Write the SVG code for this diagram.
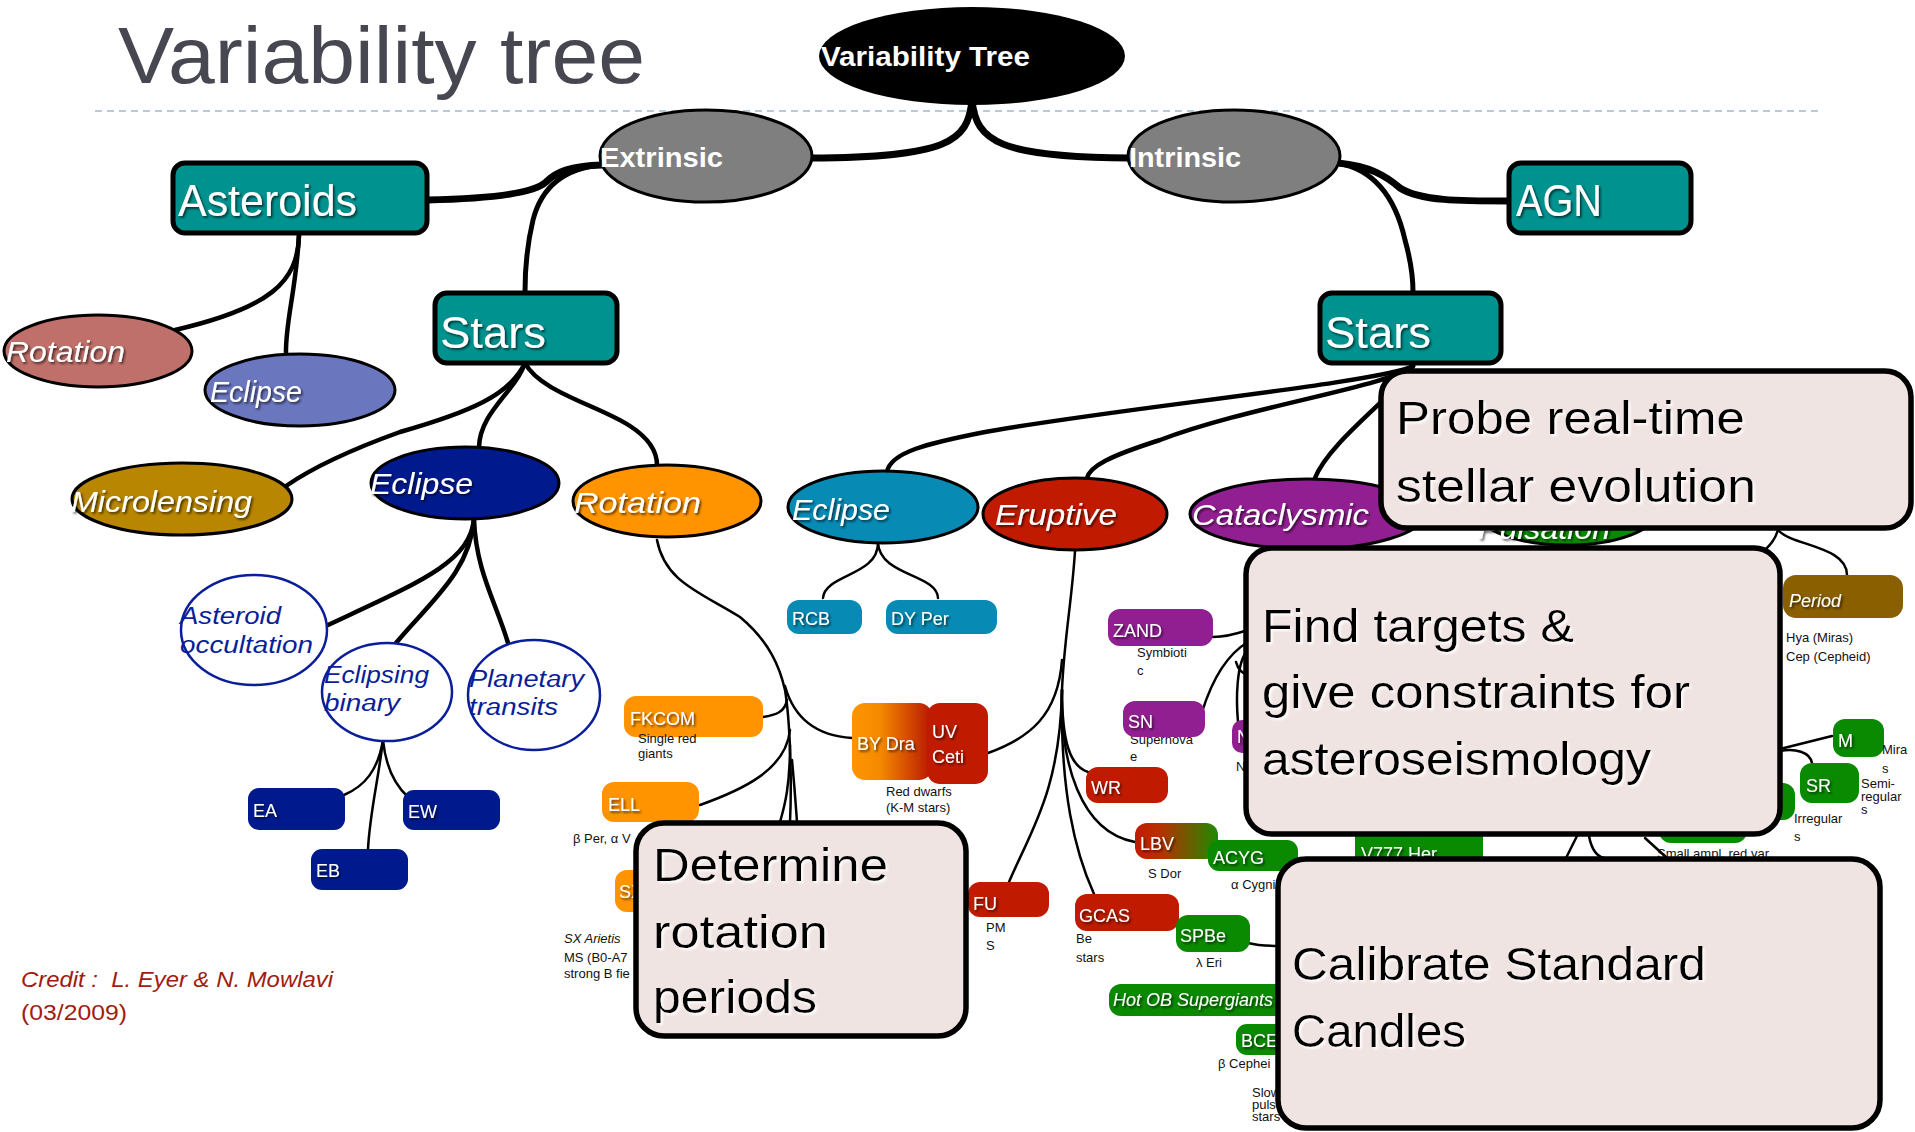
<svg xmlns="http://www.w3.org/2000/svg" width="1915" height="1132" viewBox="0 0 1915 1132">
<defs>
  <filter id="sh" x="-10%" y="-30%" width="130%" height="170%">
    <feDropShadow dx="1.6" dy="1.8" stdDeviation="1" flood-color="#000" flood-opacity="0.65"/>
  </filter>
  <filter id="glow" x="-5%" y="-20%" width="115%" height="150%">
    <feDropShadow dx="2" dy="2" stdDeviation="1.2" flood-color="#ffffff" flood-opacity="0.9"/>
  </filter>
  <linearGradient id="gBy" x1="0" y1="0" x2="1" y2="0">
    <stop offset="0" stop-color="#ff9400"/>
    <stop offset="0.35" stop-color="#f58a00"/>
    <stop offset="1" stop-color="#b81600"/>
  </linearGradient>
  <linearGradient id="gLbv" x1="0" y1="0" x2="1" y2="0">
    <stop offset="0" stop-color="#c21a00"/>
    <stop offset="0.3" stop-color="#b83000"/>
    <stop offset="1" stop-color="#1f8a00"/>
  </linearGradient>
</defs>
<style>
  .lab{font-family:"Liberation Sans",Arial,sans-serif;fill:#fff}
  .big{font-family:"Liberation Sans",Arial,sans-serif;fill:#fff;font-size:44px;filter:url(#sh)}
  .ell{font-family:"Liberation Sans",Arial,sans-serif;fill:#fff;font-size:30px;font-style:italic;filter:url(#sh)}
  .sm{font-family:"Liberation Sans",Arial,sans-serif;fill:#fff;font-size:18px;filter:url(#sh)}
  .sub{font-family:"Liberation Sans",Arial,sans-serif;fill:#111;font-size:13px}
  .circ{font-family:"Liberation Sans",Arial,sans-serif;fill:#0a1e9a;font-size:23px;font-style:italic}
  .call{font-family:"Liberation Sans",Arial,sans-serif;fill:#000;font-size:46px;filter:url(#glow)}
  .node{stroke:#000;stroke-width:3}
  .tealbox{fill:#00928f;stroke:#000;stroke-width:5}
  .callbox{fill:#f0e4e2;stroke:#000;stroke-width:5.5}
  .c1{fill:none;stroke:#000;stroke-width:7;stroke-linecap:round}
  .c2{fill:none;stroke:#000;stroke-width:5;stroke-linecap:round}
  .c3{fill:none;stroke:#000;stroke-width:4.5;stroke-linecap:round}
  .c4{fill:none;stroke:#000;stroke-width:2.5;stroke-linecap:round}
  .green{fill:#0a8a00}
  .purple{fill:#921f91}
  .red{fill:#c01b00}
  .orange{fill:#ff9400}
</style>

<rect width="1915" height="1132" fill="#fff"/>

<!-- heading -->
<text x="118" y="83" font-family="'Liberation Sans',Arial,sans-serif" font-size="80" fill="#474752" textLength="527" lengthAdjust="spacingAndGlyphs">Variability tree</text>
<line x1="95" y1="111" x2="1823" y2="111" stroke="#a4b8cc" stroke-width="1.6" stroke-dasharray="7 5"/>

<!-- links between nodes -->
<g id="connectors">
  <path class="c1" d="M972,100 C968,142 948,157 811,158"/>
  <path class="c1" d="M972,100 C976,142 1000,157 1130,158"/>
  <path class="c1" d="M602,165 C570,166 556,172 546,182 C532,195 480,199 427,200"/>
  <path class="c2" d="M602,165 C566,168 542,185 533,220 C527,245 525,270 525,292"/>
  <path class="c1" d="M1338,163 C1370,166 1386,176 1400,188 C1420,201 1460,201 1510,201"/>
  <path class="c2" d="M1338,163 C1376,170 1396,200 1405,240 C1412,265 1413,280 1413,292"/>
  <path class="c3" d="M299,235 C298,282 270,308 175,330"/>
  <path class="c3" d="M299,235 C296,292 285,322 286,355"/>
  <path class="c3" d="M525,363 C510,395 470,412 400,432 C350,450 312,468 286,486"/>
  <path class="c3" d="M525,363 C515,392 480,412 479,447"/>
  <path class="c3" d="M525,363 C540,392 600,406 630,426 C650,439 657,452 657,465"/>
  <path class="c3" d="M474,519 C470,562 420,582 328,625"/>
  <path class="c3" d="M474,519 C470,572 430,602 396,643"/>
  <path class="c3" d="M474,519 C476,572 496,602 508,643"/>
  <path class="c4" d="M383,740 C378,770 365,786 344,795"/>
  <path class="c4" d="M383,740 C386,770 396,786 408,797"/>
  <path class="c4" d="M383,740 C378,782 370,812 368,849"/>
  <path class="c4" d="M657,540 C665,582 700,592 740,617 C770,642 780,668 785,690 C790,720 792,780 790,822"/>
  <path class="c4" d="M785,686 C795,722 820,736 852,738"/>
  <path class="c4" d="M763,717 C776,715 785,712 787,700"/>
  <path class="c4" d="M700,805 C742,790 786,770 790,730"/>
  <path class="c4" d="M790,745 C790,785 785,805 780,822"/>
  <path class="c4" d="M792,760 C795,792 796,808 797,822"/>
  <path class="c4" d="M878,543 C878,576 825,574 823,598"/>
  <path class="c4" d="M878,543 C880,576 937,574 938,598"/>
  <path class="c3" d="M1413,366 C1380,383 1100,410 980,433 C930,443 890,452 887,472"/>
  <path class="c3" d="M1413,366 C1390,386 1250,406 1160,440 C1110,456 1090,466 1087,478"/>
  <path class="c3" d="M1413,366 C1400,392 1330,440 1315,478"/>
  <path class="c4" d="M1075,551 C1072,600 1064,640 1062,690"/>
  <path class="c4" d="M988,753 C1030,738 1058,715 1062,660"/>
  <path class="c4" d="M1062,690 C1062,742 1070,766 1088,772"/>
  <path class="c4" d="M1062,690 C1060,762 1080,832 1135,842"/>
  <path class="c4" d="M1062,690 C1060,792 1030,832 1009,882"/>
  <path class="c4" d="M1062,690 C1060,792 1075,852 1094,894"/>
  <path class="c4" d="M1213,637 C1226,637 1236,634 1248,630"/>
  <path class="c4" d="M1202,712 C1212,680 1226,655 1248,642"/>
  <path class="c4" d="M1248,650 C1236,662 1236,700 1238,722"/>
  <path class="c4" d="M1236,662 C1238,670 1242,674 1250,676"/>
  <path class="c4" d="M1778,530 C1792,546 1847,546 1847,575"/>
  <path class="c4" d="M1778,530 C1775,540 1770,545 1764,551"/>
  <path class="c4" d="M1832,736 L1780,749"/>
  <path class="c4" d="M1812,763 C1810,752 1795,748 1780,751"/>
  <path class="c4" d="M1248,943 C1260,946 1268,946 1280,946"/>
  <path class="c4" d="M1580,830 L1566,858"/>
  <path class="c4" d="M1588,830 C1590,846 1595,856 1604,858"/>
  <path class="c4" d="M1645,838 L1667,858"/>
</g>

<!-- root -->
<g id="root">
  <ellipse cx="972" cy="56" rx="153" ry="49" fill="#000"/>
  <text class="lab" x="821" y="66" font-size="27" font-weight="bold" textLength="209" lengthAdjust="spacingAndGlyphs">Variability Tree</text>
</g>
<g id="extrinsic">
  <ellipse class="node" cx="706" cy="156" rx="106" ry="46" fill="#7f7f7f"/>
  <text class="lab" x="600" y="167" font-size="27" font-weight="bold" textLength="123" lengthAdjust="spacingAndGlyphs">Extrinsic</text>
</g>
<g id="intrinsic">
  <ellipse class="node" cx="1234" cy="156" rx="106" ry="46" fill="#7f7f7f"/>
  <text class="lab" x="1129" y="167" font-size="27" font-weight="bold" textLength="112" lengthAdjust="spacingAndGlyphs">Intrinsic</text>
</g>

<g id="asteroids">
  <rect class="tealbox" x="173" y="163" width="254" height="70" rx="12"/>
  <text class="big" x="178" y="216" textLength="179" lengthAdjust="spacingAndGlyphs">Asteroids</text>
</g>
<g id="stars-extrinsic">
  <rect class="tealbox" x="435" y="293" width="182" height="70" rx="12"/>
  <text class="big" x="440" y="348" font-size="48" textLength="106" lengthAdjust="spacingAndGlyphs">Stars</text>
</g>
<g id="agn">
  <rect class="tealbox" x="1509" y="163" width="182" height="70" rx="12"/>
  <text class="big" x="1516" y="216" textLength="86" lengthAdjust="spacingAndGlyphs">AGN</text>
</g>
<g id="stars-intrinsic">
  <rect class="tealbox" x="1320" y="293" width="181" height="70" rx="12"/>
  <text class="big" x="1325" y="348" font-size="48" textLength="106" lengthAdjust="spacingAndGlyphs">Stars</text>
</g>

<g id="asteroid-rotation">
  <ellipse class="node" cx="98" cy="351" rx="94" ry="36" fill="#c0706a"/>
  <text class="ell" x="6" y="362" textLength="119" lengthAdjust="spacingAndGlyphs">Rotation</text>
</g>
<g id="asteroid-eclipse">
  <ellipse class="node" cx="300" cy="390" rx="95" ry="36" fill="#6a76be"/>
  <text class="ell" x="210" y="402" textLength="92" lengthAdjust="spacingAndGlyphs">Eclipse</text>
</g>

<g id="microlensing">
  <ellipse class="node" cx="182" cy="499" rx="110" ry="36" fill="#b88600"/>
  <text class="ell" x="71" y="512" textLength="181" lengthAdjust="spacingAndGlyphs">Microlensing</text>
</g>
<g id="eclipse-extrinsic">
  <ellipse class="node" cx="465" cy="483" rx="94" ry="36" fill="#001a8e"/>
  <text class="ell" x="370" y="494" textLength="103" lengthAdjust="spacingAndGlyphs">Eclipse</text>
</g>
<g id="rotation-stars">
  <ellipse class="node" cx="667" cy="501" rx="94" ry="36" fill="#ff9400"/>
  <text class="ell" x="574" y="513" textLength="127" lengthAdjust="spacingAndGlyphs">Rotation</text>
</g>

<g id="asteroid-occultation">
  <ellipse cx="254" cy="630" rx="73" ry="55" fill="#fff" stroke="#0a1e9a" stroke-width="2.5"/>
  <text class="circ" x="180" y="624" textLength="101" lengthAdjust="spacingAndGlyphs">Asteroid</text>
  <text class="circ" x="180" y="653" textLength="133" lengthAdjust="spacingAndGlyphs">occultation</text>
</g>
<g id="eclipsing-binary">
  <ellipse cx="387" cy="692" rx="65" ry="49" fill="#fff" stroke="#0a1e9a" stroke-width="2.5"/>
  <text class="circ" x="324" y="683" textLength="105" lengthAdjust="spacingAndGlyphs">Eclipsing</text>
  <text class="circ" x="324" y="711" textLength="76" lengthAdjust="spacingAndGlyphs">binary</text>
</g>
<g id="planetary-transits">
  <ellipse cx="534" cy="695" rx="66" ry="55" fill="#fff" stroke="#0a1e9a" stroke-width="2.5"/>
  <text class="circ" x="469" y="687" textLength="115" lengthAdjust="spacingAndGlyphs">Planetary</text>
  <text class="circ" x="469" y="715" textLength="89" lengthAdjust="spacingAndGlyphs">transits</text>
</g>

<g id="ea">
  <rect x="248" y="788" width="97" height="42" rx="11" fill="#001a8e"/>
  <text class="sm" x="253" y="817">EA</text>
</g>
<g id="ew">
  <rect x="403" y="790" width="97" height="40" rx="11" fill="#001a8e"/>
  <text class="sm" x="408" y="818">EW</text>
</g>
<g id="eb">
  <rect x="311" y="849" width="97" height="41" rx="11" fill="#001a8e"/>
  <text class="sm" x="316" y="877">EB</text>
</g>

<g id="fkcom">
  <rect class="orange" x="624" y="696" width="139" height="41" rx="12"/>
  <text class="sm" x="630" y="725">FKCOM</text>
  <text class="sub" x="638" y="743">Single red</text>
  <text class="sub" x="638" y="758">giants</text>
</g>
<g id="ell">
  <rect class="orange" x="602" y="782" width="97" height="40" rx="12"/>
  <text class="sm" x="608" y="811">ELL</text>
  <text class="sub" x="573" y="843">β Per, α V</text>
</g>
<g id="sxari">
  <rect class="orange" x="615" y="870" width="100" height="42" rx="12"/>
  <text class="sm" x="619" y="898" font-size="19">SX</text>
  <text class="sub" x="564" y="943" font-style="italic">SX Arietis</text>
  <text class="sub" x="564" y="962">MS (B0-A7</text>
  <text class="sub" x="564" y="978">strong B fie</text>
</g>
<g id="bydra">
  <rect x="852" y="703" width="80" height="77" rx="13" fill="url(#gBy)"/>
  <text class="sm" x="857" y="750">BY Dra</text>
</g>
<g id="uvceti">
  <rect class="red" x="927" y="703" width="61" height="81" rx="13"/>
  <text class="sm" x="932" y="738">UV</text>
  <text class="sm" x="932" y="763">Ceti</text>
  <text class="sub" x="886" y="796">Red dwarfs</text>
  <text class="sub" x="886" y="812">(K-M stars)</text>
</g>

<g id="eclipse-intrinsic">
  <ellipse class="node" cx="883" cy="507" rx="95" ry="36" fill="#078bb5"/>
  <text class="ell" x="792" y="520" textLength="98" lengthAdjust="spacingAndGlyphs">Eclipse</text>
</g>
<g id="rcb">
  <rect x="787" y="600" width="75" height="34" rx="12" fill="#078bb5"/>
  <text class="sm" x="792" y="625">RCB</text>
</g>
<g id="dyper">
  <rect x="886" y="600" width="111" height="34" rx="12" fill="#078bb5"/>
  <text class="sm" x="891" y="625">DY Per</text>
</g>

<g id="eruptive">
  <ellipse class="node" cx="1075" cy="514" rx="92" ry="36" fill="#c01b00"/>
  <text class="ell" x="995" y="525" textLength="122" lengthAdjust="spacingAndGlyphs">Eruptive</text>
</g>
<g id="cataclysmic">
  <ellipse class="node" cx="1307" cy="514" rx="117" ry="35" fill="#921f91"/>
  <text class="ell" x="1192" y="525" textLength="177" lengthAdjust="spacingAndGlyphs">Cataclysmic</text>
</g>
<g id="pulsation">
  <ellipse class="node" cx="1567" cy="511" rx="90" ry="34" fill="#0a8a00"/>
  <text class="ell" x="1478" y="539" textLength="132" lengthAdjust="spacingAndGlyphs">Pulsation</text>
</g>

<g id="zand">
  <rect class="purple" x="1108" y="609" width="105" height="37" rx="12"/>
  <text class="sm" x="1113" y="637">ZAND</text>
  <text class="sub" x="1137" y="657">Symbioti</text>
  <text class="sub" x="1137" y="675">c</text>
</g>
<g id="sn">
  <text class="sub" x="1130" y="744">Supernova</text>
  <text class="sub" x="1130" y="761">e</text>
  <rect class="purple" x="1123" y="701" width="82" height="36" rx="12"/>
  <text class="sm" x="1128" y="728">SN</text>
</g>
<g id="nova">
  <rect class="purple" x="1232" y="720" width="40" height="33" rx="10"/>
  <text class="sm" x="1237" y="743">N</text>
  <text class="sub" x="1236" y="771">N</text>
</g>
<g id="wr">
  <rect class="red" x="1086" y="767" width="82" height="36" rx="12"/>
  <text class="sm" x="1091" y="794">WR</text>
</g>
<g id="fu">
  <rect class="red" x="968" y="882" width="81" height="35" rx="12"/>
  <text class="sm" x="973" y="910">FU</text>
  <text class="sub" x="986" y="932">PM</text>
  <text class="sub" x="986" y="950">S</text>
</g>
<g id="gcas">
  <rect class="red" x="1075" y="894" width="104" height="37" rx="12"/>
  <text class="sm" x="1079" y="922">GCAS</text>
  <text class="sub" x="1076" y="943">Be</text>
  <text class="sub" x="1076" y="962">stars</text>
</g>
<g id="lbv">
  <rect x="1135" y="823" width="83" height="36" rx="12" fill="url(#gLbv)"/>
  <text class="sm" x="1140" y="850" font-size="22">LBV</text>
  <text class="sub" x="1148" y="878">S Dor</text>
</g>
<g id="acyg">
  <rect class="green" x="1208" y="840" width="90" height="31" rx="11"/>
  <text class="sm" x="1213" y="864">ACYG</text>
  <text class="sub" x="1231" y="889">α Cygni</text>
</g>
<g id="spbe">
  <rect class="green" x="1176" y="915" width="74" height="37" rx="12"/>
  <text class="sm" x="1180" y="942">SPBe</text>
  <text class="sub" x="1196" y="967">λ Eri</text>
</g>
<g id="hotob">
  <rect class="green" x="1109" y="984" width="190" height="32" rx="12"/>
  <text class="sm" x="1113" y="1006" font-style="italic" font-size="17">Hot OB Supergiants</text>
</g>
<g id="bce">
  <rect class="green" x="1236" y="1024" width="64" height="31" rx="11"/>
  <text class="sm" x="1241" y="1047">BCE</text>
  <text class="sub" x="1218" y="1068">β Cephei</text>
  <text class="sub" x="1252" y="1097">Slow</text>
  <text class="sub" x="1252" y="1109">puls</text>
  <text class="sub" x="1252" y="1121">stars</text>
</g>
<g id="v777her">
  <rect class="green" x="1355" y="820" width="128" height="50" rx="14"/>
  <text class="sm" x="1361" y="860">V777 Her</text>
</g>
<g id="smallampl">
  <rect class="green" x="1659" y="805" width="88" height="38" rx="12"/>
  <text class="sub" x="1657" y="858">Small ampl. red var.</text>
</g>
<g id="irregular">
  <rect class="green" x="1705" y="783" width="90" height="37" rx="12"/>
  <text class="sub" x="1794" y="823">Irregular</text>
  <text class="sub" x="1794" y="841">s</text>
</g>
<g id="sr">
  <rect class="green" x="1800" y="763" width="59" height="40" rx="12"/>
  <text class="sm" x="1806" y="792">SR</text>
  <text class="sub" x="1861" y="788">Semi-</text>
  <text class="sub" x="1861" y="801">regular</text>
  <text class="sub" x="1861" y="814">s</text>
</g>
<g id="mira">
  <rect class="green" x="1833" y="719" width="51" height="38" rx="12"/>
  <text class="sm" x="1838" y="747">M</text>
  <text class="sub" x="1882" y="754">Mira</text>
  <text class="sub" x="1882" y="773">s</text>
</g>
<g id="period">
  <rect x="1783" y="575" width="120" height="43" rx="13" fill="#8a5f00"/>
  <text class="sm" x="1789" y="607" font-size="24" font-style="italic">Period</text>
  <text class="sub" x="1786" y="642">Hya (Miras)</text>
  <text class="sub" x="1786" y="661">Cep (Cepheid)</text>
</g>

<!-- science goal callouts -->
<g id="goal-evolution">
  <rect class="callbox" x="1381" y="371" width="530" height="157" rx="26"/>
  <text class="call" x="1396" y="434" textLength="349" lengthAdjust="spacingAndGlyphs">Probe real-time</text>
  <text class="call" x="1396" y="502" textLength="360" lengthAdjust="spacingAndGlyphs">stellar evolution</text>
</g>
<g id="goal-asteroseismology">
  <rect class="callbox" x="1246" y="548" width="534" height="286" rx="26"/>
  <text class="call" x="1262" y="642" textLength="312" lengthAdjust="spacingAndGlyphs">Find targets &amp;</text>
  <text class="call" x="1262" y="708" textLength="428" lengthAdjust="spacingAndGlyphs">give constraints for</text>
  <text class="call" x="1262" y="775" textLength="389" lengthAdjust="spacingAndGlyphs">asteroseismology</text>
</g>
<g id="goal-rotation">
  <rect class="callbox" x="636" y="823" width="330" height="213" rx="28"/>
  <text class="call" x="653" y="881" textLength="235" lengthAdjust="spacingAndGlyphs">Determine</text>
  <text class="call" x="653" y="948" textLength="175" lengthAdjust="spacingAndGlyphs">rotation</text>
  <text class="call" x="653" y="1013" textLength="164" lengthAdjust="spacingAndGlyphs">periods</text>
</g>
<g id="goal-candles">
  <rect class="callbox" x="1278" y="859" width="602" height="269" rx="28"/>
  <text class="call" x="1292" y="980" textLength="414" lengthAdjust="spacingAndGlyphs">Calibrate Standard</text>
  <text class="call" x="1292" y="1047" textLength="174" lengthAdjust="spacingAndGlyphs">Candles</text>
</g>

<!-- attribution -->
<text x="21" y="987" font-family="'Liberation Sans',Arial,sans-serif" font-size="22" font-style="italic" fill="#a01c10" xml:space="preserve" textLength="312" lengthAdjust="spacingAndGlyphs">Credit :  L. Eyer &amp; N. Mowlavi</text>
<text x="21" y="1020" font-family="'Liberation Sans',Arial,sans-serif" font-size="22" fill="#a01c10" textLength="106" lengthAdjust="spacingAndGlyphs">(03/2009)</text>
</svg>
